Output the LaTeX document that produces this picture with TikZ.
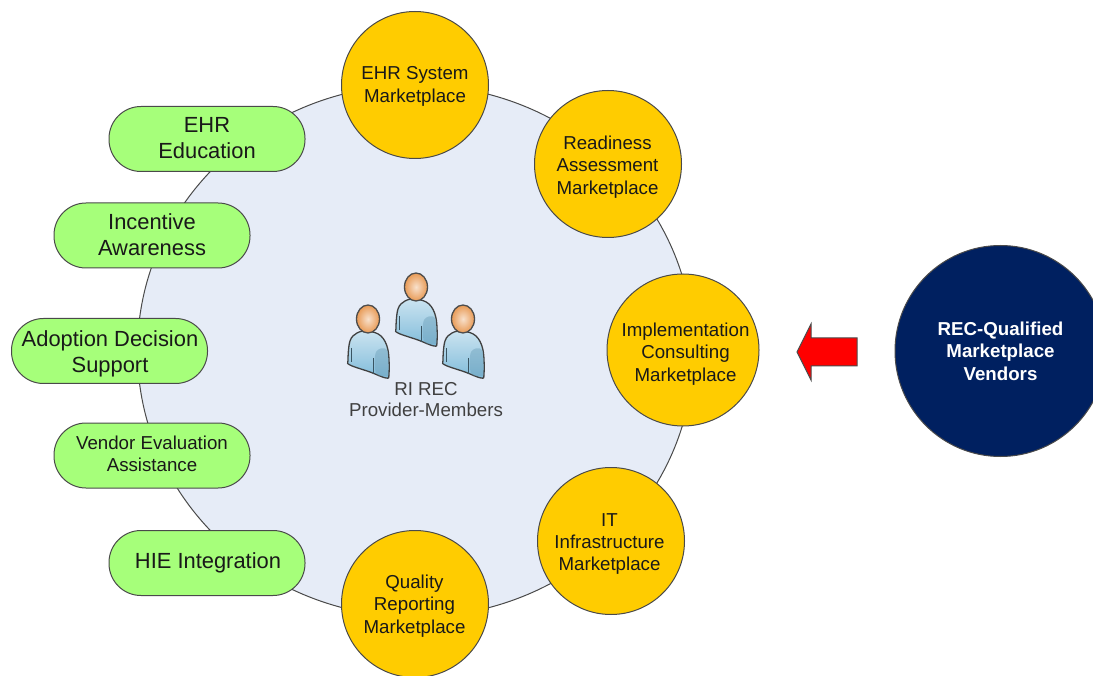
\documentclass[tikz,border=0pt]{standalone}
\usepackage{fontspec}
\usetikzlibrary{shapes.geometric}
\setmainfont{Liberation Sans}
\definecolor{discfill}{HTML}{E6ECF7}
\definecolor{marketfill}{HTML}{FFCC00}
\definecolor{pillfill}{HTML}{A6FF7A}
\definecolor{vendorfill}{HTML}{002060}
\definecolor{edgegrey}{HTML}{4A4A4A}
\definecolor{bodyblue}{HTML}{7FBBDA}
\definecolor{headorange}{HTML}{E89A55}
\tikzset{
  market/.style={circle,draw=edgegrey,line width=1pt,fill=marketfill,minimum size=147pt,inner sep=0pt},
  pill/.style={rounded corners=32pt,draw=edgegrey,line width=1pt,fill=pillfill,minimum width=196pt,minimum height=65pt,inner sep=0pt},
  smalltext/.style={inner sep=0pt,align=center,text=black!90,font=\fontsize{18.7}{22.4}\selectfont},
  bigtext/.style={inner sep=0pt,align=center,text=black!90,font=\fontsize{21.9}{26.5}\selectfont},
  member/.pic={
    \draw[black!75,line width=1.3pt,top color=bodyblue!40,bottom color=bodyblue] plot[smooth cycle, tension=.6] coordinates {(0,-16) (-11,-14) (-18,-6) (-20,13) (-18,18) (2,25) (18,31) (21,27) (20,3) (13,-11)};
    \fill[bodyblue!85!black,opacity=.45] plot[smooth cycle, tension=.6] coordinates {(8,5) (19,3) (20,26) (18,29) (8,26)};
    \draw[bodyblue!45!black,line width=.8pt] (-17,1) -- (-17,15);
    \draw[bodyblue!45!black,line width=.8pt] (5,11) -- (5,27);
    \shade[inner color=headorange!30,outer color=headorange,draw=black!70,line width=1.3pt] (0,-28) ellipse (11.5 and 14);
  }
}
\begin{document}
\begin{tikzpicture}[x=1pt,y=-1pt]
\useasboundingbox (0,0) rectangle (1093,676);
\clip (0,0) rectangle (1093,676);
\node[ellipse,draw=edgegrey,line width=1pt,fill=discfill,minimum width=556pt,minimum height=532pt,inner sep=0pt] (disc) at (415.5,351) {};
% marketplaces
\node[market] (ehrsystem) at (415,85) {};
\node[market] (readiness) at (608,164) {};
\node[market,minimum size=152pt] (implementation) at (683,350) {};
\node[market] (infrastructure) at (611,541) {};
\node[market] (quality) at (415,604) {};
\node[smalltext] (ehrsystemtext) at (415,86.5) {EHR System\\Marketplace};
\node[smalltext] (readinesstext) at (607.5,167) {Readiness\\Assessment\\Marketplace};
\node[smalltext] (implementationtext) at (685.5,354) {Implementation\\Consulting\\Marketplace};
\node[smalltext] (infrastructuretext) at (609.5,544) {IT\\Infrastructure\\Marketplace};
\node[smalltext] (qualitytext) at (414.5,606) {Quality\\Reporting\\Marketplace};
% services
\node[pill] (education) at (207,139) {};
\node[pill] (incentive) at (152,235.5) {};
\node[pill] (adoption) at (109.5,351) {};
\node[pill] (evaluation) at (152,455.5) {};
\node[pill] (integration) at (207,563) {};
\node[bigtext] (educationtext) at (207,138) {EHR\\Education};
\node[bigtext] (incentivetext) at (152,234.5) {Incentive\\Awareness};
\node[bigtext] (adoptiontext) at (110,354) {Adoption Decision\\Support};
\node[smalltext] (evaluationtext) at (152,454) {Vendor Evaluation\\Assistance};
\node[bigtext] (integrationtext) at (208,563) {HIE Integration};
% members
\pic at (368,347) {member};
\pic at (416,315) {member};
\pic at (463,347) {member};
\node[smalltext,text=black!75,font=\fontsize{18.7}{21.5}\selectfont] (members) at (426,399.5) {RI REC\\Provider-Members};
% vendors
\node[circle,draw=edgegrey,line width=1pt,fill=vendorfill,minimum size=211pt,inner sep=0pt,align=center,text=white,font=\bfseries\fontsize{18.7}{22.4}\selectfont] (vendors) at (1000.5,351) {REC-Qualified\\Marketplace\\Vendors};
\draw[edgegrey,line width=1pt,fill=red] (797,352) -- (811,324) -- (811,338) -- (857,338) -- (857,366) -- (811,366) -- (811,380) -- cycle;
\end{tikzpicture}
\end{document}
